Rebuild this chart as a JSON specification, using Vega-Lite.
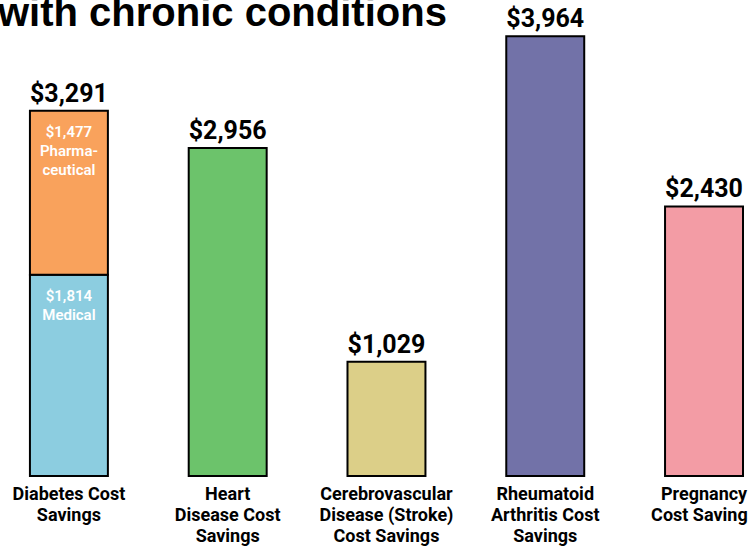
{
  "$schema": "https://vega.github.io/schema/vega-lite/v6.json",
  "width": 748,
  "height": 476,
  "autosize": {"type": "none"},
  "padding": {"left": 0, "top": 0, "right": 0, "bottom": 70},
  "background": "white",
  "title": {
    "text": "with chronic conditions",
    "anchor": "start",
    "frame": "group",
    "font": "Liberation Sans",
    "fontSize": 40,
    "fontWeight": "bold",
    "color": "black",
    "baseline": "alphabetic",
    "offset": -66,
    "dx": -2
  },
  "data": {
    "values": [
      {"category": "Diabetes Cost|Savings", "part": "Medical", "seg": 1, "value": 1814, "note": "$1,814\nMedical"},
      {"category": "Diabetes Cost|Savings", "part": "Pharmaceutical", "seg": 2, "value": 1477, "note": "$1,477\nPharma-\nceutical"},
      {"category": "Heart|Disease Cost|Savings", "part": "Heart", "seg": 1, "value": 2956},
      {"category": "Cerebrovascular|Disease (Stroke)|Cost Savings", "part": "Stroke", "seg": 1, "value": 1029},
      {"category": "Rheumatoid|Arthritis  Cost|Savings", "part": "Rheumatoid", "seg": 1, "value": 3964},
      {"category": "Pregnancy|Cost Savings", "part": "Pregnancy", "seg": 1, "value": 2430}
    ]
  },
  "config": {"view": {"stroke": null}},
  "encoding": {
    "x": {
      "field": "category",
      "type": "nominal",
      "sort": null,
      "scale": {"paddingInner": 0.509, "paddingOuter": 0.11, "align": 0.857},
      "axis": {
        "title": null,
        "domain": false,
        "ticks": false,
        "labelAngle": 0,
        "labelFont": "Liberation Sans Narrow, Roboto",
        "labelFontSize": 18,
        "labelFontWeight": "bold",
        "labelColor": "black",
        "labelPadding": 9,
        "labelLineHeight": 21,
        "labelLimit": 0,
        "labelExpr": "split(datum.value, '|')"
      }
    }
  },
  "layer": [
    {
      "mark": {"type": "bar", "stroke": "black", "strokeWidth": 2},
      "encoding": {
        "y": {"field": "value", "type": "quantitative", "stack": "zero", "scale": {"domain": [0, 4290], "nice": false}, "axis": null},
        "color": {
          "field": "part",
          "type": "nominal",
          "scale": {
            "domain": ["Medical", "Pharmaceutical", "Heart", "Stroke", "Rheumatoid", "Pregnancy"],
            "range": ["#8ccde0", "#f9a25c", "#6cc36b", "#dccf88", "#7272a8", "#f39ca5"]
          },
          "legend": null
        },
        "order": {"field": "seg", "type": "quantitative", "sort": "ascending"}
      }
    },
    {
      "mark": {"type": "text", "baseline": "alphabetic", "dy": -9, "font": "Roboto", "fontSize": 25, "fontWeight": "bold", "color": "black"},
      "encoding": {
        "y": {"aggregate": "sum", "field": "value", "type": "quantitative"},
        "text": {"aggregate": "sum", "field": "value", "type": "quantitative", "format": "$,d"}
      }
    },
    {
      "transform": [{"filter": "isValid(datum.note)"}],
      "mark": {"type": "text", "baseline": "top", "dy": 14, "font": "Roboto", "fontSize": 15, "fontWeight": 600, "color": "white", "lineBreak": "\n", "lineHeight": 19},
      "encoding": {
        "y": {"field": "value", "type": "quantitative", "stack": "zero"},
        "text": {"field": "note", "type": "nominal"},
        "order": {"field": "seg", "type": "quantitative", "sort": "ascending"}
      }
    }
  ]
}
